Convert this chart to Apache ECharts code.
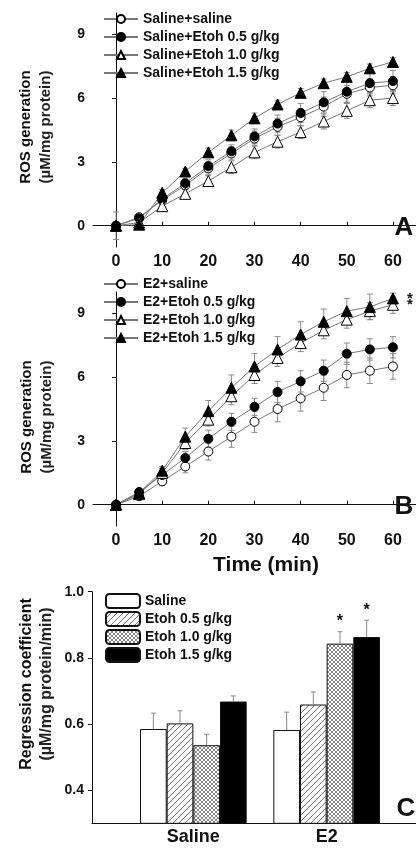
<!DOCTYPE html>
<html><head><meta charset="utf-8">
<script src="https://cdn.jsdelivr.net/npm/echarts@6/dist/echarts.min.js"></script>
<style>html,body{margin:0;padding:0;background:#fff}#c{width:416px;height:850px}</style>
</head><body><div id="c"></div>
<script>
// ---------- data ----------
const times = [0,5,10,15,20,25,30,35,40,45,50,55,60];
const xTicks = [0,10,20,30,40,50,60];
const yTicksAB = [0,3,6,9];
const yTicksC = [0.4,0.6,0.8,1.0];

const namesA = ['Saline+saline','Saline+Etoh 0.5 g/kg','Saline+Etoh 1.0 g/kg','Saline+Etoh 1.5 g/kg'];
const salineSaline = [0,0.4,1.2,1.9,2.7,3.4,4.1,4.65,5.1,5.6,6.2,6.5,6.6];
const salineEtoh05 = [0,0.35,1.25,2.0,2.8,3.5,4.2,4.8,5.3,5.8,6.3,6.7,6.8];
const salineEtoh10 = [0,0.15,0.92,1.5,2.1,2.75,3.45,3.95,4.4,4.9,5.4,5.9,6.0];
const salineEtoh15 = [0,0.05,1.55,2.55,3.45,4.25,5.05,5.7,6.25,6.7,7.0,7.4,7.7];
const errSalineSaline = [0.65,0.1,0.2,0.2,0.3,0.3,0.35,0.4,0.4,0.45,0.4,0.4,0.4];
const errSalineEtoh05 = [0.1,0.1,0.15,0.2,0.3,0.3,0.35,0.4,0.45,0.5,0.5,0.5,0.5];
const errSalineEtoh10 = [0.05,0.1,0.15,0.2,0.25,0.3,0.3,0.3,0.3,0.35,0.35,0.35,0.35];
const errSalineEtoh15 = [0.05,0.1,0.15,0.15,0.2,0.25,0.25,0.2,0.2,0.2,0.2,0.2,0.2];

const namesB = ['E2+saline','E2+Etoh 0.5 g/kg','E2+Etoh 1.0 g/kg','E2+Etoh 1.5 g/kg'];
const e2Saline = [0,0.4,1.1,1.8,2.5,3.2,3.9,4.5,5.0,5.5,6.1,6.3,6.5];
const e2Etoh05 = [0,0.6,1.4,2.2,3.1,3.9,4.6,5.3,5.8,6.3,7.1,7.3,7.4];
const e2Etoh10 = [0,0.5,1.5,2.9,4.0,5.1,6.1,6.9,7.6,8.2,8.7,9.1,9.4];
const e2Etoh15 = [0,0.55,1.6,3.2,4.4,5.5,6.5,7.3,8.0,8.6,9.1,9.3,9.7];
const errE2Saline = [0.05,0.1,0.2,0.3,0.4,0.5,0.5,0.6,0.6,0.6,0.6,0.6,0.6];
const errE2Etoh05 = [0.05,0.1,0.2,0.3,0.4,0.4,0.4,0.5,0.5,0.5,0.5,0.5,0.5];
const errE2Etoh10 = [0.05,0.1,0.2,0.3,0.3,0.4,0.4,0.4,0.4,0.4,0.4,0.4,0.4];
const errE2Etoh15 = [0.05,0.1,0.2,0.4,0.5,0.6,0.6,0.6,0.6,0.6,0.6,0.6,0.25];
const starB = [false,false,true,true];

const groupsC = ['Saline','E2'];
const namesC = ['Saline','Etoh 0.5 g/kg','Etoh 1.0 g/kg','Etoh 1.5 g/kg'];
const coefSaline = [0.585,0.582];   // [Saline group, E2 group]
const coefEtoh05 = [0.602,0.659];
const coefEtoh10 = [0.536,0.843];
const coefEtoh15 = [0.668,0.863];
const errCoefSaline = [0.048,0.054];
const errCoefEtoh05 = [0.038,0.038];
const errCoefEtoh10 = [0.033,0.036];
const errCoefEtoh15 = [0.017,0.051];
const starC = [[false,false],[false,false],[false,true],[false,true]];

// ---------- styles ----------
const FONT = '"Liberation Sans", Arial, sans-serif';
const INK = '#111';
function hatchPattern(){
  const s=6,c=document.createElement('canvas');c.width=c.height=s;const g=c.getContext('2d');
  g.fillStyle='#fff';g.fillRect(0,0,s,s);g.strokeStyle='#555';g.lineWidth=0.8;
  g.beginPath();g.moveTo(0,s);g.lineTo(s,0);g.moveTo(-1,1);g.lineTo(1,-1);g.moveTo(s-1,s+1);g.lineTo(s+1,s-1);g.stroke();
  return c;
}
function crossPattern(){
  const s=4,c=document.createElement('canvas');c.width=c.height=s;const g=c.getContext('2d');
  g.fillStyle='#fff';g.fillRect(0,0,s,s);g.strokeStyle='#666';g.lineWidth=0.8;
  g.beginPath();g.moveTo(0,s);g.lineTo(s,0);g.moveTo(0,0);g.lineTo(s,s);g.stroke();
  return c;
}
const fillsC = ['#fff',{image:hatchPattern(),repeat:'repeat'},{image:crossPattern(),repeat:'repeat'},'#000'];

const gridA = {left:93, right:-4, top:13, height:234};
const gridB = {left:93, right:-4, top:292, height:234};
const gridC = {left:126.7, right:22.7, top:591.7, bottom:26.7};
const gridC2 = {left:92, right:0, top:591.7, bottom:26.7};

function xAxisTime(gi){
  return {gridIndex:gi,type:'value',min:-5,max:65,
    axisLine:{show:true,lineStyle:{color:INK,width:1}},
    axisTick:{show:true,inside:true,length:4,customValues:xTicks,lineStyle:{color:INK}},
    axisLabel:{customValues:xTicks,margin:7,fontSize:16,fontWeight:'bold',color:INK,fontFamily:FONT},
    splitLine:{show:false}};
}
function yAxisROS(gi){
  return {gridIndex:gi,type:'value',min:-1,max:10,
    axisLine:{show:true,lineStyle:{color:INK,width:1}},
    axisTick:{show:true,length:4,customValues:yTicksAB,lineStyle:{color:INK}},
    axisLabel:{customValues:yTicksAB,margin:8,fontSize:14,fontWeight:'bold',color:INK,fontFamily:FONT},
    splitLine:{show:false}};
}
const symbols = [['circle','#fff',9],['circle','#000',9],['triangle','#fff',11],['triangle','#000',11]];
function lineSeries(name, vals, k, gi, star){
  const last = vals.length-1;
  return {type:'line', name, xAxisIndex:gi, yAxisIndex:gi, z:3,
    symbol:symbols[k][0], symbolSize:symbols[k][2], showAllSymbol:true,
    itemStyle:{color:symbols[k][1], borderColor:'#000', borderWidth:1},
    lineStyle:{color:'#777', width:1},
    emphasis:{disabled:true}, animation:false,
    data: vals.map((v,i)=> (star && i===last) ?
      {value:[times[i],v], label:{show:true, formatter:'*', position:'right', distance:8, fontSize:15, fontWeight:'bold', color:INK, fontFamily:FONT}} :
      [times[i],v])};
}
function errSeries(vals, errs, gi){
  return {type:'custom', xAxisIndex:gi, yAxisIndex:gi, z:1, silent:true, animation:false,
    data: vals.map((v,i)=>[times[i],v,errs[i]]),
    renderItem(params, api){
      const x=api.value(0), y=api.value(1), e=api.value(2);
      const a=api.coord([x,y+e]), b=api.coord([x,y-e]);
      const st={stroke:'#8a8a8a',lineWidth:1};
      return {type:'group',children:[
        {type:'line',shape:{x1:a[0],y1:a[1],x2:b[0],y2:b[1]},style:st},
        {type:'line',shape:{x1:a[0]-3,y1:a[1],x2:a[0]+3,y2:a[1]},style:st},
        {type:'line',shape:{x1:b[0]-3,y1:b[1],x2:b[0]+3,y2:b[1]},style:st}]};
    }};
}
function legendLines(names, top){
  return {orient:'vertical', left:98, top, itemWidth:34, itemHeight:10, itemGap:4,
    data:names, selectedMode:false,
    textStyle:{fontSize:14, fontWeight:'bold', color:INK, fontFamily:FONT, lineHeight:14}};
}

const valsA=[salineSaline,salineEtoh05,salineEtoh10,salineEtoh15];
const errsA=[errSalineSaline,errSalineEtoh05,errSalineEtoh10,errSalineEtoh15];
const valsB=[e2Saline,e2Etoh05,e2Etoh10,e2Etoh15];
const errsB=[errE2Saline,errE2Etoh05,errE2Etoh10,errE2Etoh15];
const valsC=[coefSaline,coefEtoh05,coefEtoh10,coefEtoh15];
const errsC=[errCoefSaline,errCoefEtoh05,errCoefEtoh10,errCoefEtoh15];

const series=[];
valsA.forEach((v,k)=>{series.push(errSeries(v,errsA[k],0));});
valsA.forEach((v,k)=>{series.push(lineSeries(namesA[k],v,k,0,false));});
valsB.forEach((v,k)=>{series.push(errSeries(v,errsB[k],1));});
valsB.forEach((v,k)=>{series.push(lineSeries(namesB[k],v,k,1,starB[k]));});
valsC.forEach((v,k)=>{
  series.push({type:'bar', name:namesC[k], xAxisIndex:2, yAxisIndex:2, barWidth:'20%', barGap:'0%',
    itemStyle:{color:fillsC[k], borderColor:'#111', borderWidth:1}, animation:false, emphasis:{disabled:true},
    data:v});
});
const errDataC=[];
valsC.forEach((v,k)=>v.forEach((val,g)=>errDataC.push([g,val,errsC[k][g],k,starC[k][g]?1:0])));
series.push({type:'custom', xAxisIndex:2, yAxisIndex:2, z:5, silent:true, animation:false, data:errDataC,
  renderItem(params, api){
    const g=api.value(0), v=api.value(1), e=api.value(2), k=api.value(3), s=api.value(4);
    const base=api.coord([g,v]); const cw=api.size([1,0])[0];
    const x=base[0]+(k-1.5)*0.2*cw; const top=api.coord([g,v+e])[1];
    const st={stroke:'#888',lineWidth:1};
    const ch=[{type:'line',shape:{x1:x,y1:base[1],x2:x,y2:top},style:st},
              {type:'line',shape:{x1:x-2.5,y1:top,x2:x+2.5,y2:top},style:st}];
    if(s) ch.push({type:'text',x:x,y:top-2,style:{text:'*',fill:INK,font:'bold 16px '+FONT,align:'center',verticalAlign:'bottom'}});
    return {type:'group',children:ch};
  }});

const option={
  backgroundColor:'#fff', animation:false,
  grid:[gridA,gridB,gridC,gridC2],
  legend:[legendLines(namesA,7), legendLines(namesB,272),
    {orient:'vertical', left:100, top:588, itemWidth:34, itemHeight:14, itemGap:2, data:namesC, selectedMode:false,
     textStyle:{fontSize:14, fontWeight:'bold', color:INK, fontFamily:FONT, lineHeight:14}}],
  xAxis:[xAxisTime(0), xAxisTime(1),
    {gridIndex:2,type:'category',data:groupsC,axisLine:{show:false},axisTick:{show:false},
     axisLabel:{margin:5,fontSize:18,fontWeight:'bold',color:INK,fontFamily:FONT}},
    {gridIndex:3,type:'value',min:0,max:1,axisLine:{show:true,lineStyle:{color:INK,width:1}},
     axisTick:{show:false},axisLabel:{show:false},splitLine:{show:false}}],
  yAxis:[yAxisROS(0), yAxisROS(1),
    {gridIndex:2,type:'value',min:0.3,max:1.0,offset:34.7,
     axisLine:{show:true,lineStyle:{color:INK,width:1}},
     axisTick:{show:true,length:4,customValues:yTicksC,lineStyle:{color:INK}},
     axisLabel:{customValues:yTicksC,margin:8,fontSize:14,fontWeight:'bold',color:INK,fontFamily:FONT,formatter:v=>v.toFixed(1)},
     splitLine:{show:false}},
    {gridIndex:3,type:'value',show:false,min:0,max:1}],
  graphic:[
    {type:'text',x:26,y:127,rotation:Math.PI/2,style:{text:'ROS generation',font:'bold 15px '+FONT,fill:INK,align:'center',verticalAlign:'middle'}},
    {type:'text',x:46,y:127,rotation:Math.PI/2,style:{text:'(\u00b5M/mg protein)',font:'bold 15px '+FONT,fill:'#222',align:'center',verticalAlign:'middle'}},
    {type:'text',x:27,y:417,rotation:Math.PI/2,style:{text:'ROS generation',font:'bold 15px '+FONT,fill:INK,align:'center',verticalAlign:'middle'}},
    {type:'text',x:47,y:417,rotation:Math.PI/2,style:{text:'(\u00b5M/mg protein)',font:'bold 15px '+FONT,fill:'#222',align:'center',verticalAlign:'middle'}},
    {type:'text',x:27,y:684,rotation:Math.PI/2,style:{text:'Regression coefficient',font:'bold 16px '+FONT,fill:INK,align:'center',verticalAlign:'middle'}},
    {type:'text',x:47,y:684,rotation:Math.PI/2,style:{text:'(\u00b5M/mg protein/min)',font:'bold 16px '+FONT,fill:'#222',align:'center',verticalAlign:'middle'}},
    {type:'text',x:266,y:565,style:{text:'Time (min)',font:'bold 21px '+FONT,fill:INK,align:'center',verticalAlign:'middle'}},
    {type:'text',x:404,y:228,style:{text:'A',font:'bold 26px '+FONT,fill:INK,align:'center',verticalAlign:'middle'}},
    {type:'text',x:404,y:507,style:{text:'B',font:'bold 26px '+FONT,fill:INK,align:'center',verticalAlign:'middle'}},
    {type:'text',x:406,y:809,style:{text:'C',font:'bold 26px '+FONT,fill:INK,align:'center',verticalAlign:'middle'}}
  ],
  series
};
const chart=echarts.init(document.getElementById('c'),null,{renderer:'canvas'});
chart.setOption(option);
</script></body></html>
